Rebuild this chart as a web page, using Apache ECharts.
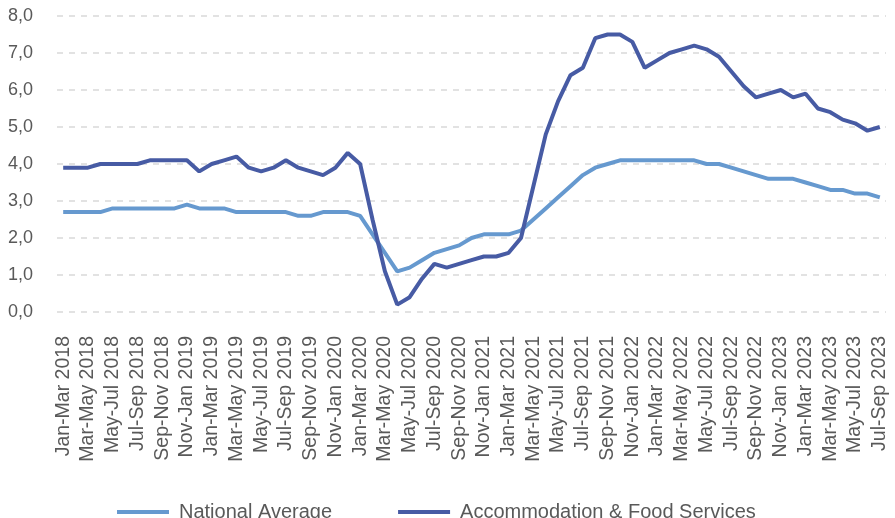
<!DOCTYPE html>
<html>
<head>
    <meta charset="utf-8">
    <title>Vacancy rate</title>
    <script src="https://cdn.jsdelivr.net/npm/echarts@6/dist/echarts.min.js"></script>
    <style>
        html, body { margin: 0; padding: 0; background: #fff; }
        #chart { width: 895px; height: 518px; }
    </style>
</head>
<body>
    <div id="chart"></div>
    <script>
        // 3-month rolling periods, Jan-Mar 2018 .. Jul-Sep 2023
        var periods = [
            'Jan-Mar 2018', 'Feb-Apr 2018', 'Mar-May 2018', 'Apr-Jun 2018', 'May-Jul 2018', 'Jun-Aug 2018',
            'Jul-Sep 2018', 'Aug-Oct 2018', 'Sep-Nov 2018', 'Oct-Dec 2018', 'Nov-Jan 2019', 'Dec-Feb 2019',
            'Jan-Mar 2019', 'Feb-Apr 2019', 'Mar-May 2019', 'Apr-Jun 2019', 'May-Jul 2019', 'Jun-Aug 2019',
            'Jul-Sep 2019', 'Aug-Oct 2019', 'Sep-Nov 2019', 'Oct-Dec 2019', 'Nov-Jan 2020', 'Dec-Feb 2020',
            'Jan-Mar 2020', 'Feb-Apr 2020', 'Mar-May 2020', 'Apr-Jun 2020', 'May-Jul 2020', 'Jun-Aug 2020',
            'Jul-Sep 2020', 'Aug-Oct 2020', 'Sep-Nov 2020', 'Oct-Dec 2020', 'Nov-Jan 2021', 'Dec-Feb 2021',
            'Jan-Mar 2021', 'Feb-Apr 2021', 'Mar-May 2021', 'Apr-Jun 2021', 'May-Jul 2021', 'Jun-Aug 2021',
            'Jul-Sep 2021', 'Aug-Oct 2021', 'Sep-Nov 2021', 'Oct-Dec 2021', 'Nov-Jan 2022', 'Dec-Feb 2022',
            'Jan-Mar 2022', 'Feb-Apr 2022', 'Mar-May 2022', 'Apr-Jun 2022', 'May-Jul 2022', 'Jun-Aug 2022',
            'Jul-Sep 2022', 'Aug-Oct 2022', 'Sep-Nov 2022', 'Oct-Dec 2022', 'Nov-Jan 2023', 'Dec-Feb 2023',
            'Jan-Mar 2023', 'Feb-Apr 2023', 'Mar-May 2023', 'Apr-Jun 2023', 'May-Jul 2023', 'Jun-Aug 2023',
            'Jul-Sep 2023'
        ];

        var nationalAverage = [
            2.7, 2.7, 2.7, 2.7, 2.8, 2.8, 2.8, 2.8, 2.8, 2.8, 2.9, 2.8,
            2.8, 2.8, 2.7, 2.7, 2.7, 2.7, 2.7, 2.6, 2.6, 2.7, 2.7, 2.7,
            2.6, 2.1, 1.6, 1.1, 1.2, 1.4, 1.6, 1.7, 1.8, 2.0, 2.1, 2.1,
            2.1, 2.2, 2.5, 2.8, 3.1, 3.4, 3.7, 3.9, 4.0, 4.1, 4.1, 4.1,
            4.1, 4.1, 4.1, 4.1, 4.0, 4.0, 3.9, 3.8, 3.7, 3.6, 3.6, 3.6,
            3.5, 3.4, 3.3, 3.3, 3.2, 3.2, 3.1
        ];

        var accommodationFood = [
            3.9, 3.9, 3.9, 4.0, 4.0, 4.0, 4.0, 4.1, 4.1, 4.1, 4.1, 3.8,
            4.0, 4.1, 4.2, 3.9, 3.8, 3.9, 4.1, 3.9, 3.8, 3.7, 3.9, 4.3,
            4.0, 2.5, 1.1, 0.2, 0.4, 0.9, 1.3, 1.2, 1.3, 1.4, 1.5, 1.5,
            1.6, 2.0, 3.4, 4.8, 5.7, 6.4, 6.6, 7.4, 7.5, 7.5, 7.3, 6.6,
            6.8, 7.0, 7.1, 7.2, 7.1, 6.9, 6.5, 6.1, 5.8, 5.9, 6.0, 5.8,
            5.9, 5.5, 5.4, 5.2, 5.1, 4.9, 5.0
        ];

        var lightBlue = '#6699cf';
        var darkBlue = '#475ba4';

        var chart = echarts.init(document.getElementById('chart'));
        var option = {
            animation: false,
            textStyle: { fontFamily: 'Liberation Sans, Arial, sans-serif' },
            grid: {
                left: 57,
                right: 9,
                top: 16,
                bottom: 206
            },
            legend: {
                top: 497,
                left: 112,
                itemWidth: 52,
                itemHeight: 4,
                itemGap: 66,
                icon: 'rect',
                textStyle: { fontSize: 20, color: '#595959', padding: [0, 0, 0, 5] },
                data: ['National Average', 'Accommodation & Food Services']
            },
            xAxis: {
                type: 'category',
                data: periods,
                boundaryGap: true,
                axisLine: { show: false },
                axisTick: { show: false },
                axisLabel: {
                    interval: 1,
                    rotate: 90,
                    margin: 24,
                    fontSize: 19.5,
                    color: '#595959'
                }
            },
            yAxis: {
                type: 'value',
                min: 0,
                max: 8,
                interval: 1,
                axisLine: { show: false },
                axisTick: { show: false },
                axisLabel: {
                    fontSize: 18,
                    color: '#595959',
                    margin: 24,
                    formatter: function (v) { return v.toFixed(1).replace('.', ','); }
                },
                splitLine: {
                    lineStyle: { color: '#d9d9d9', type: [6, 6], width: 1.5 }
                }
            },
            series: [
                {
                    name: 'National Average',
                    type: 'line',
                    data: nationalAverage,
                    symbol: 'none',
                    lineStyle: { color: lightBlue, width: 4 },
                    itemStyle: { color: lightBlue }
                },
                {
                    name: 'Accommodation & Food Services',
                    type: 'line',
                    data: accommodationFood,
                    symbol: 'none',
                    lineStyle: { color: darkBlue, width: 4 },
                    itemStyle: { color: darkBlue }
                }
            ]
        };
        chart.setOption(option);
    </script>
</body>
</html>
